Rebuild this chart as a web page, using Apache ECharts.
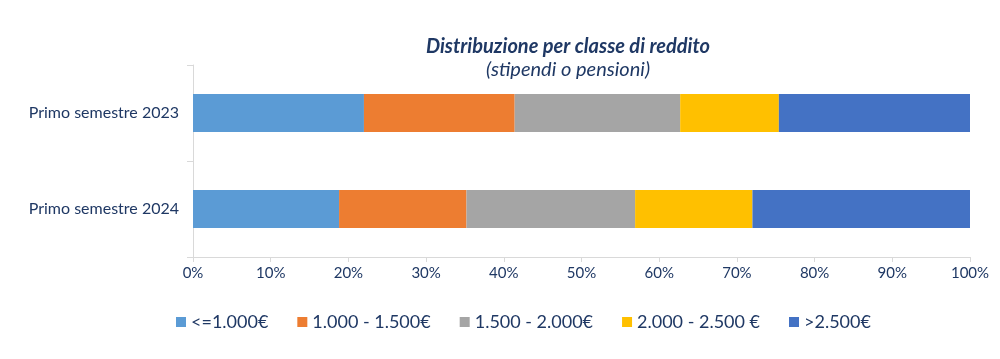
<!DOCTYPE html>
<html><head><meta charset="utf-8">
<script src="https://cdn.jsdelivr.net/npm/echarts@6/dist/echarts.min.js"></script>
<style>html,body{margin:0;padding:0;background:#fff}#c{width:1000px;height:359px}</style>
</head><body><div id="c"></div>
<script>
const categories = ['Primo semestre 2023', 'Primo semestre 2024'];
const seriesNames = ['<=1.000€', '1.000 - 1.500€', '1.500 - 2.000€', '2.000 - 2.500 €', '>2.500€'];
const s1 = [22.0, 18.8];
const s2 = [19.4, 16.4];
const s3 = [21.3, 21.7];
const s4 = [12.7, 15.1];
const s5 = [24.6, 28.0];
const xTicks = [0, 10, 20, 30, 40, 50, 60, 70, 80, 90, 100];
const colors = ['#5B9BD5', '#ED7D31', '#A5A5A5', '#FFC000', '#4472C4'];
const seriesData = [s1, s2, s3, s4, s5];
const navy = '#1F3864';
const font = 'Lato';
const chart = echarts.init(document.getElementById('c'));
chart.setOption({
  animation: false,
  color: colors,
  textStyle: { fontFamily: font },
  title: [
    { text: 'Distribuzione per classe di reddito', left: 563, top: 32, textAlign: 'center',
      textStyle: { fontFamily: font, fontSize: 20, fontWeight: 'bold', fontStyle: 'italic', color: navy } },
    { text: '(stipendi o pensioni)', left: 563, top: 55, textAlign: 'center',
      textStyle: { fontFamily: font, fontSize: 20, fontWeight: 'normal', fontStyle: 'italic', color: navy } }
  ],
  legend: {
    top: 308, left: 171, icon: 'rect', itemWidth: 10, itemHeight: 10, itemGap: 29,
    data: seriesNames,
    textStyle: { fontFamily: font, fontSize: 18, color: navy }
  },
  grid: { left: 193, right: 30, top: 65, bottom: 102, containLabel: false },
  xAxis: {
    type: 'value', min: xTicks[0], max: xTicks[xTicks.length - 1], interval: 10,
    axisLine: { show: true, lineStyle: { color: '#D9D9D9' } },
    axisTick: { show: true, length: 5, lineStyle: { color: '#D9D9D9' } },
    splitLine: { show: false },
    axisLabel: { formatter: '{value}%', fontFamily: font, fontSize: 15, color: navy, margin: 9 }
  },
  yAxis: {
    type: 'category', inverse: true, data: categories,
    axisLine: { show: true, lineStyle: { color: '#D9D9D9' } },
    axisTick: { show: true, length: 6, lineStyle: { color: '#D9D9D9' } },
    axisLabel: { fontFamily: font, fontSize: 16, color: navy, margin: 14 }
  },
  series: seriesNames.map((n, i) => ({
    name: n, type: 'bar', stack: 'tot', data: seriesData[i], barWidth: 38
  }))
});
</script></body></html>
